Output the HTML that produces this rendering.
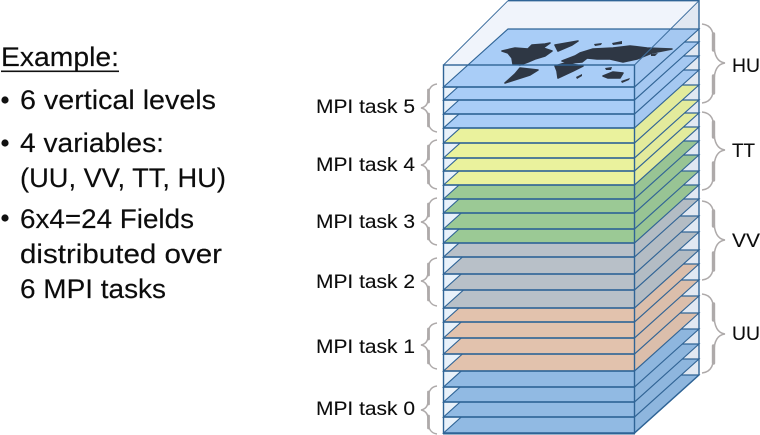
<!DOCTYPE html>
<html lang="en">
<head>
<meta charset="utf-8">
<title>MPI fields</title>
<style>
html,body{margin:0;padding:0;background:#fff;width:760px;height:435px;overflow:hidden}
svg{display:block}
text{font-family:"Liberation Sans",sans-serif;fill:#0c0c0c}
.big{font-size:27px;stroke:#0c0c0c;stroke-width:.15}
.lab{font-size:19.5px;stroke:#0c0c0c;stroke-width:.1}
.b{fill:none;stroke:#aeaaaa;stroke-width:1.5}
.s{fill:none;stroke:#aeaaaa;stroke-width:3.4;stroke-linecap:round}
</style>
</head>
<body>
<svg width="760" height="435" viewBox="0 0 760 435" xmlns="http://www.w3.org/2000/svg">
<!-- left text -->
<text class="big" x="1" y="66" textLength="118" lengthAdjust="spacingAndGlyphs">Example:</text>
<rect x="1" y="70.5" width="118" height="1.6" fill="#111"/>
<circle cx="5" cy="100" r="3.6" fill="#111"/>
<circle cx="5" cy="143" r="3.6" fill="#111"/>
<circle cx="5" cy="218" r="3.6" fill="#111"/>
<text class="big" x="20" y="109" textLength="196" lengthAdjust="spacingAndGlyphs">6 vertical levels</text>
<text class="big" x="20" y="152" textLength="144" lengthAdjust="spacingAndGlyphs">4 variables:</text>
<text class="big" x="20" y="187" textLength="206" lengthAdjust="spacingAndGlyphs">(UU, VV, TT, HU)</text>
<text class="big" x="20" y="228" textLength="174" lengthAdjust="spacingAndGlyphs">6x4=24 Fields</text>
<text class="big" x="20" y="263" textLength="202" lengthAdjust="spacingAndGlyphs">distributed over</text>
<text class="big" x="20" y="298" textLength="146" lengthAdjust="spacingAndGlyphs">6 MPI tasks</text>

<!-- MPI labels -->
<text class="lab" x="316" y="113" textLength="99" lengthAdjust="spacingAndGlyphs">MPI task 5</text>
<text class="lab" x="316" y="171" textLength="99" lengthAdjust="spacingAndGlyphs">MPI task 4</text>
<text class="lab" x="316" y="228" textLength="99" lengthAdjust="spacingAndGlyphs">MPI task 3</text>
<text class="lab" x="316" y="288" textLength="99" lengthAdjust="spacingAndGlyphs">MPI task 2</text>
<text class="lab" x="316" y="353" textLength="99" lengthAdjust="spacingAndGlyphs">MPI task 1</text>
<text class="lab" x="316" y="415" textLength="99" lengthAdjust="spacingAndGlyphs">MPI task 0</text>

<!-- left braces -->
<path class="b" d="M437,84 C429,85 428,92 428,99 C428,104 426,107 421,108 C426,109 428,112 428,117 C428,124 429,131 437,132"/>
<path class="b" d="M437,140 C429,141 428,148 428,155 C428,160 426,164 421,165 C426,166 428,170 428,175 C428,182 429,188 437,189"/>
<path class="b" d="M437,198 C429,199 428,206 428,213 C428,218 426,221 421,222 C426,223 428,226 428,231 C428,238 429,244 437,245"/>
<path class="b" d="M437,258 C429,259 428,265 428,272 C428,277 426,280 421,281 C426,282 428,286 428,291 C428,298 429,305 437,306"/>
<path class="b" d="M437,323 C429,324 428,330 428,336 C428,341 426,344 421,345 C426,346 428,349 428,354 C428,361 429,368 437,369"/>
<path class="b" d="M437,386 C429,387 428,394 428,401 C428,406 426,409 421,410 C426,411 428,414 428,419 C428,426 429,433 437,434"/>
<path class="s" style="stroke-width:2.8" d="M428.5,90V102M428.5,114V126M428.5,146V159M428.5,171V183M428.5,204V216M428.5,228V239M428.5,264V275M428.5,287V300M428.5,329V339M428.5,351V363M428.5,392V404M428.5,416V428"/>

<!-- right braces -->
<path class="b" d="M702,24 C712,25 714,33 714,44 C714,55 717,62 725,63 C717,64 714,71 714,82 C714,94 712,102 702,103"/>
<path class="b" d="M702,112 C712,113 714,120 714,131 C714,142 717,149 725,150 C717,151 714,158 714,169 C714,181 712,189 702,190"/>
<path class="b" d="M702,201 C712,202 714,209 714,220 C714,231 717,239 725,240 C717,241 714,248 714,259 C714,271 712,279 702,280"/>
<path class="b" d="M702,294 C712,295 714,303 714,314 C714,325 717,333 725,334 C717,335 714,342 714,352 C714,364 712,372 702,373"/>
<path class="s" d="M713.5,34V50M713.5,76V93M713.5,122V137M713.5,163V180M713.5,211V226M713.5,253V270M713.5,304V320M713.5,346V363"/>

<text class="lab" x="732" y="72" textLength="28" lengthAdjust="spacingAndGlyphs">HU</text>
<text class="lab" x="732" y="157" textLength="23" lengthAdjust="spacingAndGlyphs">TT</text>
<text class="lab" x="732" y="247" textLength="28" lengthAdjust="spacingAndGlyphs">VV</text>
<text class="lab" x="732" y="340" textLength="28" lengthAdjust="spacingAndGlyphs">UU</text>

<!-- box back faces -->
<polygon points="443.5,65 508,0 699,0 634.5,65" fill="#f0f4fb"/>
<rect x="443.5" y="65" width="191" height="368" fill="#e8f1fa"/>
<polygon points="634.5,65 699,0 699,375 634.5,433" fill="#e8eff8"/>

<!-- plates, painted from bottom to top -->
<g stroke="#2f6496" stroke-width="1.15">
<g fill="#91bae3">
<polygon points="443.5,433 634.5,433 699,375 508,375"/>
<polygon points="443.5,417 634.5,417 699,359 508,359"/>
<polygon points="443.5,402 634.5,402 699,344 508,344"/>
<polygon points="443.5,387 634.5,387 699,329 508,329"/>
</g>
<g fill="#e2c2ad">
<polygon points="443.5,371 634.5,371 699,313 508,313"/>
<polygon points="443.5,354 634.5,354 699,296 508,296"/>
<polygon points="443.5,338 634.5,338 699,280 508,280"/>
<polygon points="443.5,322 634.5,322 699,264 508,264"/>
</g>
<g fill="#b8c0c8">
<polygon points="443.5,308 634.5,308 699,250 508,250"/>
<polygon points="443.5,290 634.5,290 699,232 508,232"/>
<polygon points="443.5,274 634.5,274 699,216 508,216"/>
<polygon points="443.5,257 634.5,257 699,199 508,199"/>
</g>
<g fill="#9bc995">
<polygon points="443.5,243 634.5,243 699,185 508,185"/>
<polygon points="443.5,229 634.5,229 699,171 508,171"/>
<polygon points="443.5,213 634.5,213 699,155 508,155"/>
<polygon points="443.5,199 634.5,199 699,141 508,141"/>
</g>
<g fill="#eaf29d">
<polygon points="443.5,185 634.5,185 699,127 508,127"/>
<polygon points="443.5,171 634.5,171 699,113 508,113"/>
<polygon points="443.5,158 634.5,158 699,100 508,100"/>
<polygon points="443.5,143 634.5,143 699,85 508,85"/>
</g>
<g fill="#a9cdf7">
<polygon points="443.5,128 634.5,128 699,70 508,70"/>
<polygon points="443.5,114 634.5,114 699,56 508,56"/>
<polygon points="443.5,100 634.5,100 699,42 508,42"/>
<polygon points="443.5,87 634.5,87 699,29 508,29"/>
</g>
</g>

<!-- world map -->
<g fill="#2e3744" stroke="#2e3744" stroke-width="1.6" stroke-linejoin="round">
<polygon points="502,51 515,48 528,49 532,45 545,44 550,43 543,48 552,51 545,56 535,59 528,62 520,65 513,64 512,58 508,53"/>
<polygon points="555,45 578,41 572,45 558,51"/>
<polygon points="520,68 538,70 530,75 505,83 515,74"/>
<polygon points="555,66 565,63 583,66 573,71 558,78 557,71"/>
<polygon points="562,61 575,56 580,53 593,49 613,48 630,46 647,48 672,49 652,53 637,59 623,62 610,59 597,59 587,58 582,62 570,63"/>
<polygon points="603,76 613,72 623,73 620,78 608,78"/>
</g>
<g fill="#2e3744">
<polygon points="594,44 602,43 601,45 595,46"/>
<polygon points="612,43 622,41 622,44 613,45"/>
<polygon points="605,68 612,67 611,70 606,70"/>
<polygon points="621,81 630,78 629,80 622,83"/>
<polygon points="576,77 582,74 582,76 577,79"/>
<polygon points="651,54 658,53 655,56 651,56"/>
</g>

<!-- translucent right face -->
<polygon points="634.5,65 699,0 699,375 634.5,433" fill="#5a7090" fill-opacity=".05"/>

<!-- front edges -->
<g stroke="#2f6496" stroke-width="1.4" fill="none">
<path d="M443.5,87H634.5M443.5,100H634.5M443.5,114H634.5M443.5,128H634.5M443.5,143H634.5M443.5,158H634.5M443.5,171H634.5M443.5,185H634.5M443.5,199H634.5M443.5,213H634.5M443.5,229H634.5M443.5,243H634.5M443.5,257H634.5M443.5,274H634.5M443.5,290H634.5M443.5,308H634.5M443.5,322H634.5M443.5,338H634.5M443.5,354H634.5M443.5,371H634.5M443.5,387H634.5M443.5,402H634.5M443.5,417H634.5"/>
<rect x="443.5" y="65" width="191" height="368"/>
<path d="M508,0.7H699V375L634.5,433"/>
</g>
<g stroke="#3d6e9e" stroke-width="1" fill="none">
<path d="M443.5,65L508,0.7M634.5,65L699,0.7"/>
</g>
<path d="M443,433.5H635" stroke="#2f6496" stroke-width="2"/>
</svg>
</body>
</html>
